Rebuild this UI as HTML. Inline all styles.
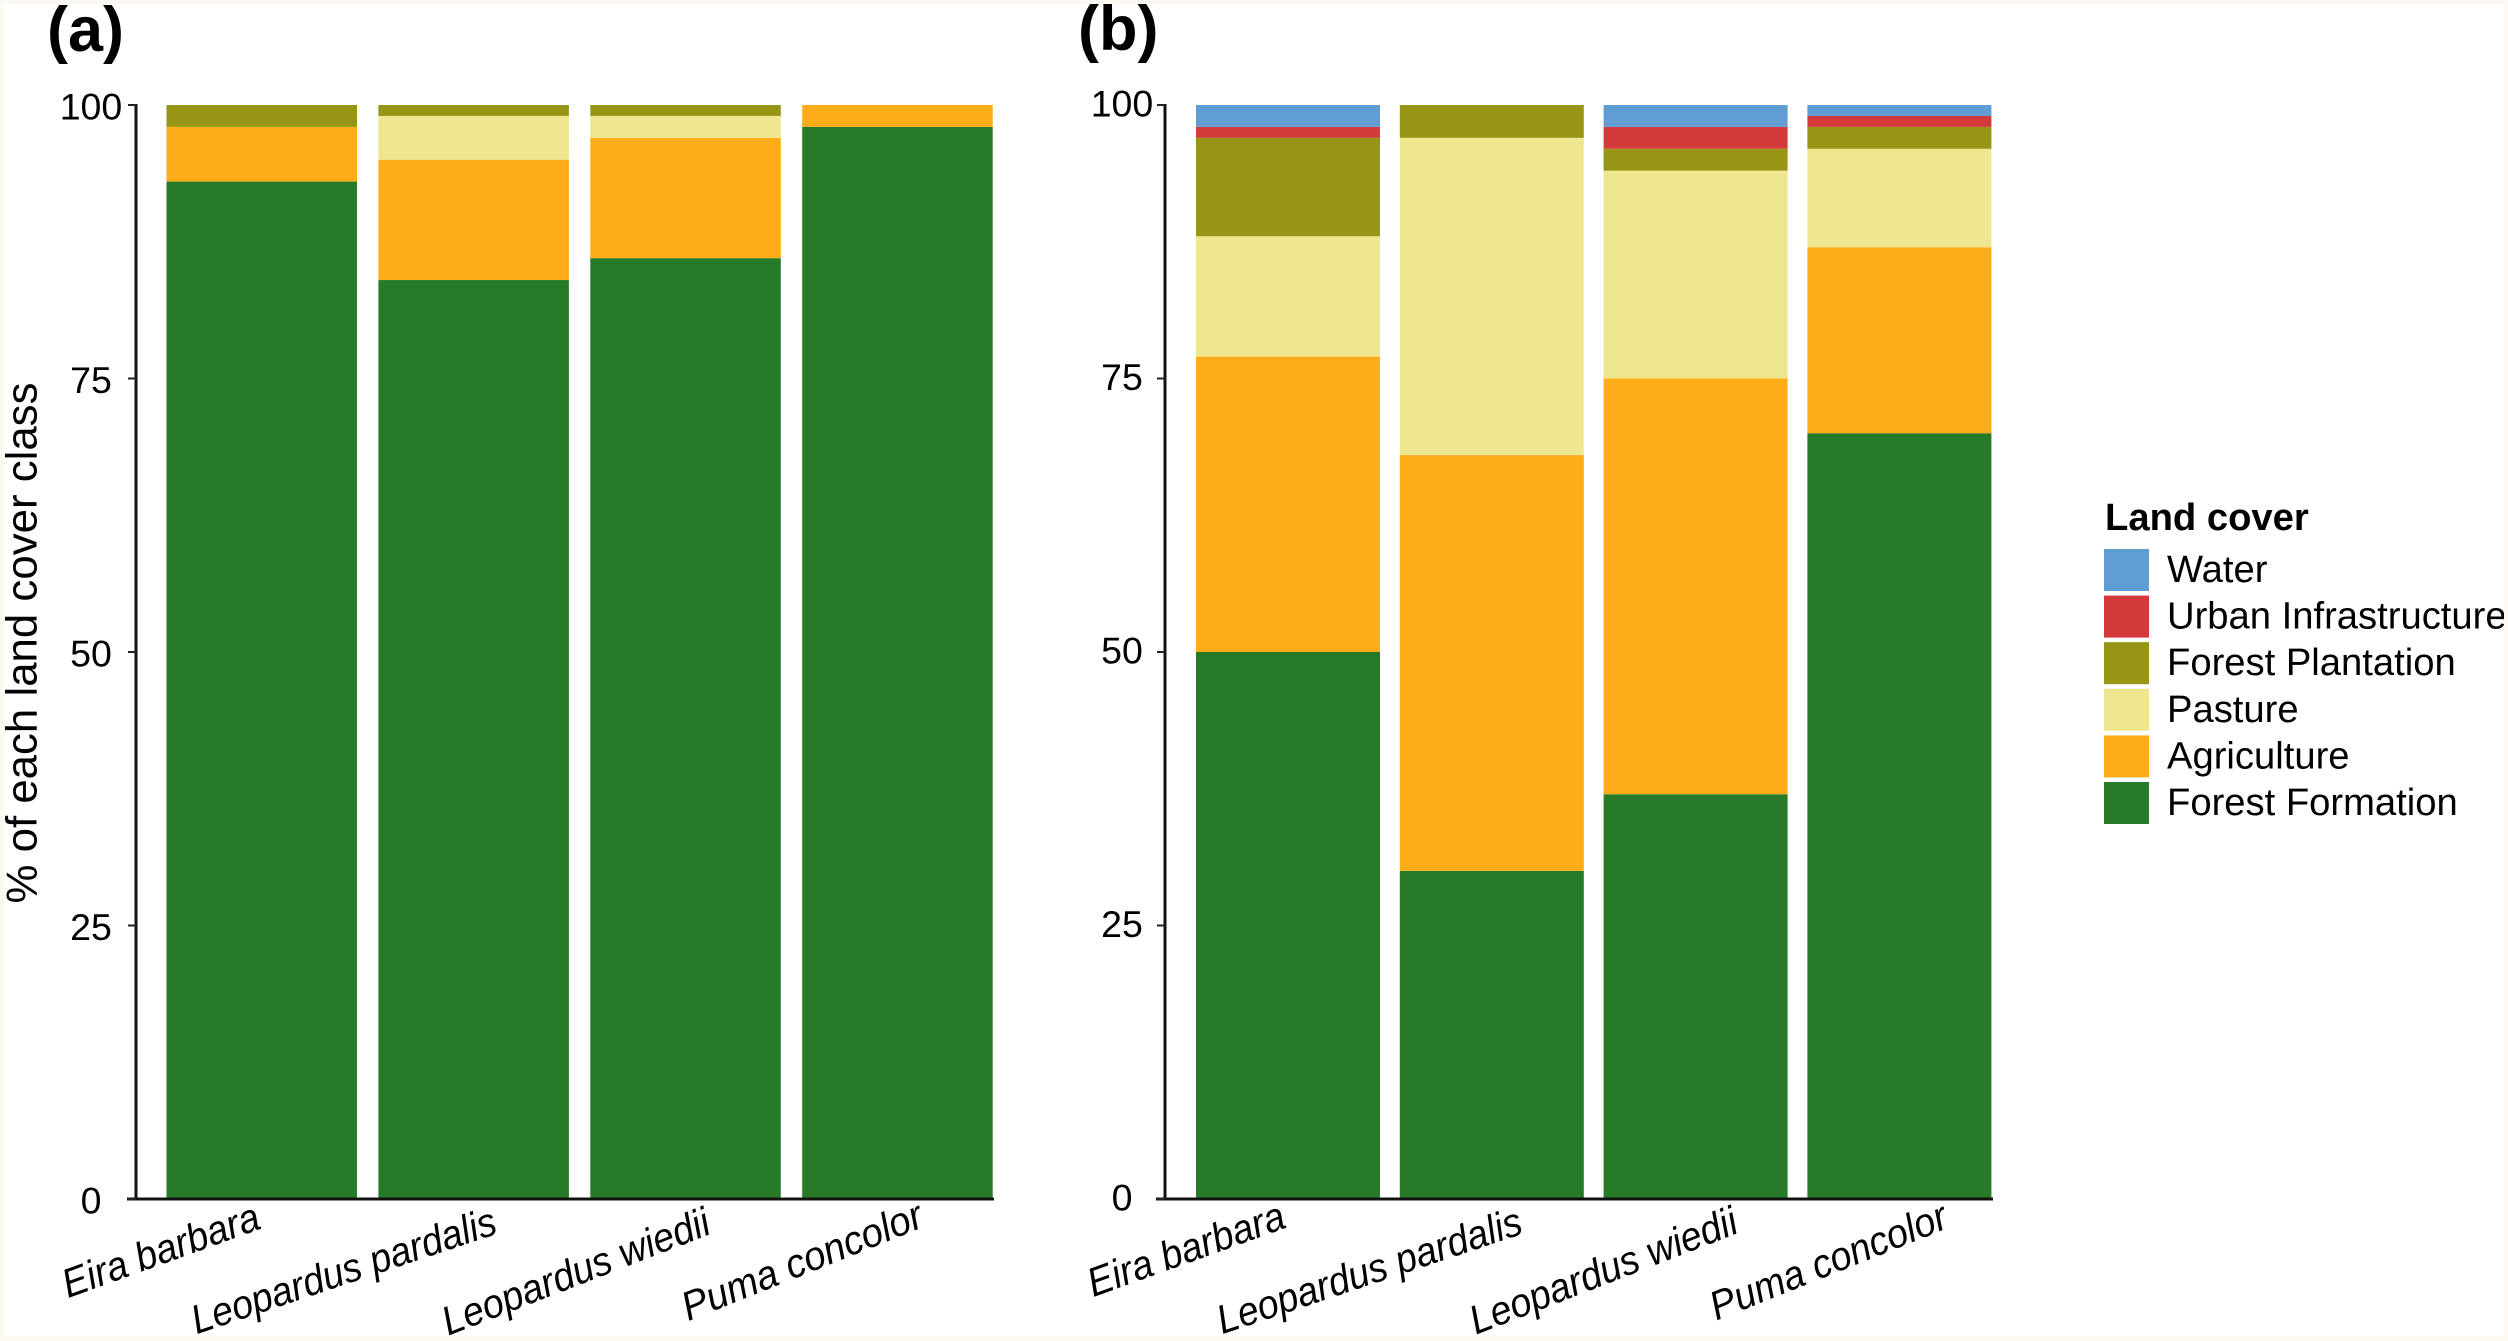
<!DOCTYPE html>
<html lang="en">
<head>
<meta charset="utf-8">
<title>Land cover stacked bar charts</title>
<style>
html,body{margin:0;padding:0;background:#fff;}
body{width:2508px;height:1341px;overflow:hidden;}
svg{display:block;font-family:"Liberation Sans",Arial,sans-serif;}
</style>
</head>
<body>
<svg id="figure" xmlns="http://www.w3.org/2000/svg" width="2508" height="1341" viewBox="0 0 2508 1341">
  <rect x="0" y="0" width="2508" height="1341" fill="#ffffff"/>
  <g id="panel-a"></g>
  <g id="panel-b"></g>
  <text x="47" y="51" font-size="63" font-weight="700" fill="#000">(a)</text>
  <text x="1078" y="50" font-size="63" font-weight="700" fill="#000">(b)</text>
  <text transform="translate(36.5,643) rotate(-90)" text-anchor="middle" font-size="43.8" fill="#000">% of each land cover class</text>
  <g id="legend">
    <text x="2105" y="530" font-size="38.2" font-weight="700" fill="#000">Land cover</text>
  </g>
  <path fill="#fcf8f2" fill-rule="evenodd" d="M0 0H2508V1341H0ZM4 4V1336H2504V4Z"/>
</svg>
<script>
// Categories and tick labels
const categories = ["Eira barbara", "Leopardus pardalis", "Leopardus wiedii", "Puma concolor"];
const yTicks = [0, 25, 50, 75, 100];

// Panel (a) series, one value per category
const aForest = [93, 84, 86, 98];
const aAgriculture = [5, 11, 11, 2];
const aPasture = [0, 4, 2, 0];
const aPlantation = [2, 1, 1, 0];
const aUrban = [0, 0, 0, 0];
const aWater = [0, 0, 0, 0];

// Panel (b) series, one value per category
const bForest = [50, 30, 37, 70];
const bAgriculture = [27, 38, 38, 17];
const bPasture = [11, 29, 19, 9];
const bPlantation = [9, 3, 2, 2];
const bUrban = [1, 0, 2, 1];
const bWater = [2, 0, 2, 1];

// Legend entries, top to bottom
const legendLabels = ["Water", "Urban Infrastructure", "Forest Plantation", "Pasture", "Agriculture", "Forest Formation"];

const NS = "http://www.w3.org/2000/svg";
const colours = {
  "Water": "#5f9dd3",
  "Urban Infrastructure": "#d33a3c",
  "Forest Plantation": "#969515",
  "Pasture": "#efe78f",
  "Agriculture": "#ffac19",
  "Forest Formation": "#277b28"
};

function yScale(v) { return 1199 - v * 10.94; }

function make(parent, tag, attrs, text) {
  const el = document.createElementNS(NS, tag);
  for (const k in attrs) el.setAttribute(k, attrs[k]);
  if (text !== undefined) el.textContent = text;
  parent.appendChild(el);
  return el;
}

function slug(s) { return s.toLowerCase().replace(/\s+/g, "-"); }

function drawPanel(cfg) {
  const g = document.getElementById(cfg.id);
  const bandX = i => cfg.barStart + i * cfg.barStep;

  cfg.series.forEach(function (s) {
    s.values.forEach(function (v, i) {
      if (!v) return;
      const base = cfg.series.slice(0, cfg.series.indexOf(s)).reduce((sum, o) => sum + o.values[i], 0);
      const bar = make(g, "rect", {
        x: bandX(i),
        y: yScale(base + v),
        width: cfg.barWidth,
        height: yScale(base) - yScale(base + v),
        fill: colours[s.name]
      });
      
      
    });
  });

  const yAxis = make(g, "line", { x1: cfg.axisX, x2: cfg.axisX, y1: yScale(100) - 1, y2: yScale(0), stroke: "#111", "stroke-width": 3 });
  
  

  const xAxis = make(g, "line", { x1: cfg.axisX - 9, x2: cfg.axisEnd, y1: yScale(0), y2: yScale(0), stroke: "#111", "stroke-width": 3 });
  
  

  yTicks.forEach(function (t) {
    const tick = make(g, "line", { x1: cfg.axisX - 8, x2: cfg.axisX, y1: yScale(t), y2: yScale(t), stroke: "#222", "stroke-width": 2 });
    
    
    const label = make(g, "text", {
      x: cfg.tickLabelX,
      y: yScale(t) + cfg.tickLabelDy,
      "text-anchor": "middle",
      "font-size": 37.5,
      fill: "#000"
    }, String(t));
    
    
  });

  categories.forEach(function (c, i) {
    const cx = bandX(i) + cfg.barWidth / 2 + cfg.labelNudge[i];
    const label = make(g, "text", {
      transform: "translate(" + cx + "," + cfg.labelBaseline[i] + ") rotate(-" + cfg.labelAngle[i] + ")",
      "text-anchor": "end",
      "font-size": 40.5,
      "font-style": "italic",
      textLength: cfg.labelLength[i],
      lengthAdjust: "spacingAndGlyphs",
      fill: "#000"
    }, c);
    
    
  });
}

drawPanel({
  id: "panel-a",
  axisX: 136, axisEnd: 994,
  barStart: 166.5, barStep: 211.9, barWidth: 190.5,
  tickLabelX: 91, tickLabelDy: 14.5,
  labelNudge: [1, 25.5, 27.5, 28.5],
  labelBaseline: [1228, 1233, 1233, 1226],
  labelAngle: [19.8, 18.5, 21.2, 21.8],
  labelLength: [207, 319, 284, 256],
  series: [
    { name: "Forest Formation", values: aForest },
    { name: "Agriculture", values: aAgriculture },
    { name: "Pasture", values: aPasture },
    { name: "Forest Plantation", values: aPlantation },
    { name: "Urban Infrastructure", values: aUrban },
    { name: "Water", values: aWater }
  ]
});

drawPanel({
  id: "panel-b",
  axisX: 1165, axisEnd: 1993,
  barStart: 1196, barStep: 203.8, barWidth: 184,
  tickLabelX: 1122, tickLabelDy: 11.7,
  labelNudge: [0, 33, 45, 51],
  labelBaseline: [1227, 1233, 1232, 1227],
  labelAngle: [19.8, 18.5, 21.2, 21.8],
  labelLength: [207, 319, 284, 252],
  series: [
    { name: "Forest Formation", values: bForest },
    { name: "Agriculture", values: bAgriculture },
    { name: "Pasture", values: bPasture },
    { name: "Forest Plantation", values: bPlantation },
    { name: "Urban Infrastructure", values: bUrban },
    { name: "Water", values: bWater }
  ]
});

const legend = document.getElementById("legend");
legendLabels.forEach(function (name, i) {
  const rowY = 549 + i * 46.6;
  const swatch = make(legend, "rect", { x: 2104, y: rowY, width: 45, height: 42, fill: colours[name] });
  
  
  const label = make(legend, "text", { x: 2167, y: rowY + 33, "font-size": 38.2, fill: "#000" }, name);
  
  
});
</script>
</body>
</html>
